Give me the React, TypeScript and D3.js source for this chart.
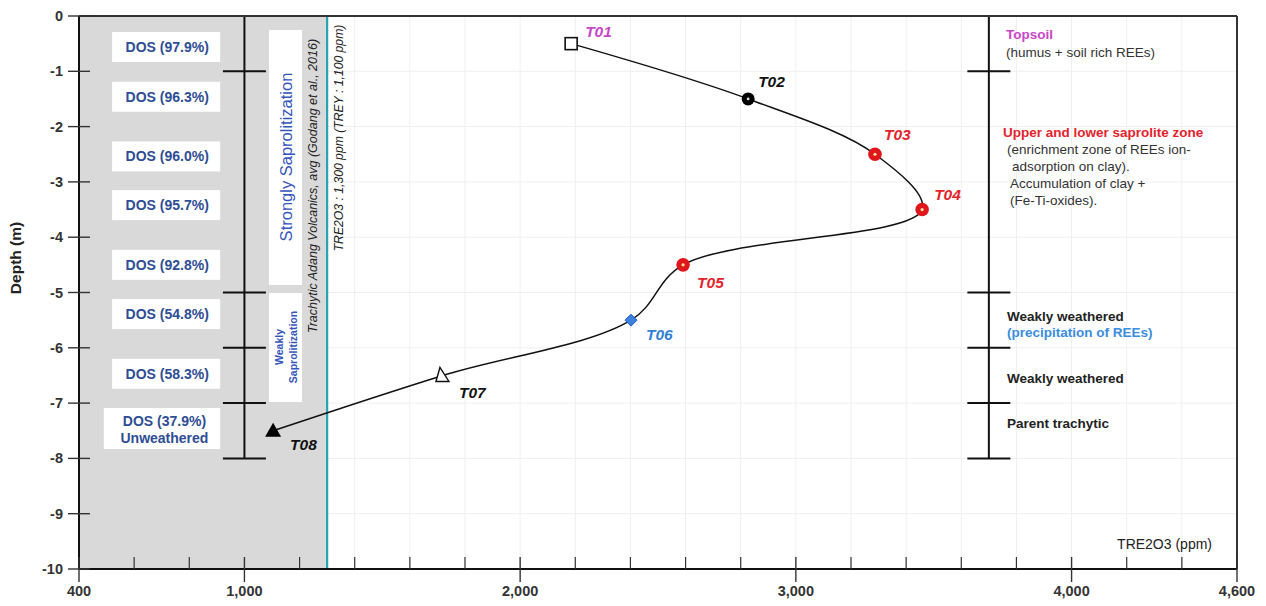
import React from 'react';
import * as d3 from 'd3';

// ---------- data ----------
const sampleIds = ['T01', 'T02', 'T03', 'T04', 'T05', 'T06', 'T07', 'T08'];
const tre2o3 = [2185, 2827, 3287, 3458, 2591, 2402, 1720, 1104];
const sampleDepth = [-0.5, -1.5, -2.5, -3.5, -4.5, -5.5, -6.5, -7.5];

const xTickLabels = [400, 1000, 2000, 3000, 4000, 4600];
const xMinorTicks = d3.range(600, 4600, 200).filter((v) => v % 1000 !== 0);
const yTicks = [0, -1, -2, -3, -4, -5, -6, -7, -8, -9, -10];

const dosLabels = ['DOS (97.9%)', 'DOS (96.3%)', 'DOS (96.0%)', 'DOS (95.7%)', 'DOS (92.8%)', 'DOS (54.8%)', 'DOS (58.3%)'];
const dosDepth = [-0.56, -1.46, -2.54, -3.42, -4.5, -5.39, -6.47];
const dosLast = ['DOS (37.9%)', 'Unweathered'];
const dosLastDepth = -7.46;

const profileBreaks = [-1, -5, -6, -7, -8];
const baselineTRE = 1300;
const leftProfileX = 1000;
const rightProfileX = 3700;

const rightNotes = [
  { text: 'Topsoil', color: '#c846c8', bold: true },
  { text: '(humus + soil rich REEs)', color: '#333', bold: false },
  { text: 'Upper and lower saprolite zone', color: '#e3232b', bold: true },
  { text: '(enrichment zone of REEs ion-', color: '#333', bold: false },
  { text: 'adsorption on clay).', color: '#333', bold: false },
  { text: 'Accumulation of clay +', color: '#333', bold: false },
  { text: '(Fe-Ti-oxides).', color: '#333', bold: false },
  { text: 'Weakly weathered', color: '#222', bold: true },
  { text: '(precipitation of REEs)', color: '#3b8de0', bold: true },
  { text: 'Weakly weathered', color: '#222', bold: true },
  { text: 'Parent trachytic', color: '#222', bold: true },
];
const rightNoteX = [1006, 1006, 1003, 1007, 1012, 1010, 1010, 1007, 1007, 1007, 1007];
const rightNoteY = [39, 57, 137, 154, 171, 188, 205, 321, 337, 383, 428];

// ---------- styles ----------
const labelColors = ['#c846c8', '#111', '#e3232b', '#e3232b', '#e3232b', '#2f7fd6', '#111', '#111'];
const labelDx = [14, 10, 9, 12, 14, 15, 16, 17];
const labelDy = [-7, -12, -14, -10, 23, 20, 23, 19];
const markerKinds = ['square', 'ring', 'red', 'red', 'red', 'diamond', 'openTri', 'filledTri'];

const W = 1266;
const H = 606;
const FONT = '"Liberation Sans", Arial, sans-serif';

export default function App() {
  const x = d3.scaleLinear().domain([400, 4600]).range([79, 1237]);
  const y = d3.scaleLinear().domain([0, -10]).range([16, 569]);

  const pts = tre2o3.map((v, i) => ({ v, d: sampleDepth[i] }));
  const line = d3
    .line<{ v: number; d: number }>()
    .x((p) => x(p.v))
    .y((p) => y(p.d))
    .curve(d3.curveCatmullRom.alpha(0.5));

  const gridX = d3.range(1400, 4600, 200);
  const fmt = d3.format(',');

  const marker = (kind: string, cx: number, cy: number, i: number) => {
    switch (kind) {
      case 'square':
        return <rect key={i} x={cx - 6} y={cy - 6} width={12} height={12} fill="#fff" stroke="#111" strokeWidth={1.6} />;
      case 'ring':
        return (
          <g key={i}>
            <circle cx={cx} cy={cy} r={6.5} fill="#000" />
            <circle cx={cx} cy={cy} r={1.4} fill="#ddd" />
          </g>
        );
      case 'red':
        return (
          <g key={i}>
            <circle cx={cx} cy={cy} r={6.8} fill="#e0161d" />
            <circle cx={cx} cy={cy} r={1.6} fill="#ffe6a0" />
          </g>
        );
      case 'diamond':
        return (
          <path key={i} d={`M${cx},${cy - 6} L${cx + 6},${cy} L${cx},${cy + 6} L${cx - 6},${cy} Z`} fill="#3c7fdc" stroke="#1d5fc0" strokeWidth={1} />
        );
      case 'openTri':
        return (
          <path key={i} d={`M${cx - 3},${cy - 8} L${cx + 6},${cy + 6} L${cx - 7},${cy + 6} Z`} fill="#fff" stroke="#111" strokeWidth={1.4} />
        );
      case 'filledTri':
        return <path key={i} d={`M${cx},${cy - 8} L${cx + 8},${cy + 6} L${cx - 8},${cy + 6} Z`} fill="#000" />;
      default:
        return null;
    }
  };

  const capHalf = 21.5;

  return (
    <svg width={W} height={H} style={{ position: 'absolute', left: 0, top: 0, background: '#fff' }} fontFamily={FONT}>
      {/* grid */}
      {gridX.map((g) => (
        <line key={'gx' + g} x1={x(g)} x2={x(g)} y1={y(0)} y2={y(-10)} stroke="#efefef" strokeWidth={1} />
      ))}
      {yTicks.slice(1, -1).map((t) => (
        <line key={'gy' + t} x1={x(1300)} x2={x(4600)} y1={y(t)} y2={y(t)} stroke="#efefef" strokeWidth={1} />
      ))}

      {/* gray unweathered region */}
      <rect x={x(400)} y={y(0)} width={x(baselineTRE) - x(400)} height={y(-10) - y(0)} fill="#d9d9d9" />

      {/* baseline line */}
      <line x1={x(baselineTRE)} x2={x(baselineTRE)} y1={y(0)} y2={y(-10)} stroke="#27a2b4" strokeWidth={2.2} />

      {/* DOS boxes */}
      {dosLabels.map((t, i) => (
        <g key={'dos' + i}>
          <rect x={x(520)} y={y(dosDepth[i]) - 15} width={x(912) - x(520)} height={30} fill="#fff" />
          <text x={x(720)} y={y(dosDepth[i]) + 5} textAnchor="middle" fontSize={14} fill="#2e4d94" fontWeight={600}>
            {t}
          </text>
        </g>
      ))}
      <rect x={x(490)} y={y(dosLastDepth) - 20.5} width={x(912) - x(490)} height={41} fill="#fff" />
      <text x={x(710)} y={y(dosLastDepth) - 3} textAnchor="middle" fontSize={14} fill="#2e4d94" fontWeight={600}>
        {dosLast[0]}
      </text>
      <text x={x(710)} y={y(dosLastDepth) + 14} textAnchor="middle" fontSize={14} fill="#2e4d94" fontWeight={600}>
        {dosLast[1]}
      </text>

      {/* saprolitization boxes */}
      <rect x={269} y={30} width={33} height={255} fill="#fff" />
      <text transform={`translate(292,157) rotate(-90)`} textAnchor="middle" fontSize={16.5} fill="#3355bb">
        Strongly Saprolitization
      </text>
      <rect x={269} y={293} width={33} height={109} fill="#fff" />
      <text transform={`translate(283,347) rotate(-90)`} textAnchor="middle" fontSize={10.5} fontWeight="bold" fill="#3355bb">
        Weakly
      </text>
      <text transform={`translate(297,347) rotate(-90)`} textAnchor="middle" fontSize={10.5} fontWeight="bold" fill="#3355bb">
        Saprolitization
      </text>

      {/* vertical notes */}
      <text transform={`translate(317,186) rotate(-90)`} textAnchor="middle" fontSize={12.5} fontStyle="italic" fill="#222">
        Trachytic Adang Volcanics, avg (Godang et al., 2016)
      </text>
      <text transform={`translate(343,138) rotate(-90)`} textAnchor="middle" fontSize={12.2} fontStyle="italic" fill="#222">
        TRE2O3 : 1,300 ppm (TREY : 1,100 ppm)
      </text>

      {/* profile bars */}
      {[leftProfileX, rightProfileX].map((px) => (
        <g key={'pb' + px}>
          <line x1={x(px)} x2={x(px)} y1={y(0)} y2={y(-8)} stroke="#111" strokeWidth={2} />
          {profileBreaks.map((b) => (
            <line key={b} x1={x(px) - capHalf} x2={x(px) + capHalf} y1={y(b)} y2={y(b)} stroke="#111" strokeWidth={2} />
          ))}
        </g>
      ))}

      {/* frame */}
      <line x1={x(400)} x2={x(4600)} y1={y(0)} y2={y(0)} stroke="#333" strokeWidth={2} />
      <line x1={x(4600)} x2={x(4600)} y1={y(0)} y2={y(-10)} stroke="#333" strokeWidth={2} />

      {/* axes */}
      <line x1={x(400)} x2={x(4600)} y1={y(-10)} y2={y(-10)} stroke="#111" strokeWidth={2} />
      <line x1={x(400)} x2={x(400)} y1={y(0)} y2={y(-10)} stroke="#111" strokeWidth={2} />
      {xMinorTicks.map((t) => (
        <line key={'mt' + t} x1={x(t)} x2={x(t)} y1={y(-10) - 12} y2={y(-10)} stroke="#333" strokeWidth={1.2} />
      ))}
      {xTickLabels.map((t) => (
        <g key={'xt' + t}>
          <line x1={x(t)} x2={x(t)} y1={y(-10) - 12} y2={y(-10) + 13} stroke="#333" strokeWidth={1.4} />
          <text x={x(t)} y={y(-10) + 27} textAnchor="middle" fontSize={14.5} fontWeight="bold" fill="#333">
            {fmt(t)}
          </text>
        </g>
      ))}
      {yTicks.map((t) => (
        <g key={'yt' + t}>
          <line x1={x(400) - 11} x2={x(400) + 11} y1={y(t)} y2={y(t)} stroke="#333" strokeWidth={1.4} />
          <text x={x(400) - 16} y={y(t) + 5} textAnchor="end" fontSize={14.5} fontWeight="bold" fill="#333">
            {t}
          </text>
        </g>
      ))}
      <text transform={`translate(21,258) rotate(-90)`} textAnchor="middle" fontSize={15.5} fontWeight="bold" fill="#222">
        Depth (m)
      </text>
      <text x={1212} y={549} textAnchor="end" fontSize={14} fill="#222">
        TRE2O3 (ppm)
      </text>

      {/* curve */}
      <path d={line(pts) || ''} fill="none" stroke="#111" strokeWidth={1.5} />

      {/* markers and labels */}
      {pts.map((p, i) => marker(markerKinds[i], x(p.v), y(p.d), i))}
      {pts.map((p, i) => (
        <text
          key={'lb' + i}
          x={x(p.v) + labelDx[i]}
          y={y(p.d) + labelDy[i]}
          fontSize={15.5}
          fontStyle="italic"
          fontWeight="bold"
          fill={labelColors[i]}
        >
          {sampleIds[i]}
        </text>
      ))}

      {/* right notes */}
      {rightNotes.map((n, i) => (
        <text key={'rn' + i} x={rightNoteX[i]} y={rightNoteY[i]} fontSize={13.5} fontWeight={n.bold ? 'bold' : 'normal'} fill={n.color}>
          {n.text}
        </text>
      ))}
    </svg>
  );
}
